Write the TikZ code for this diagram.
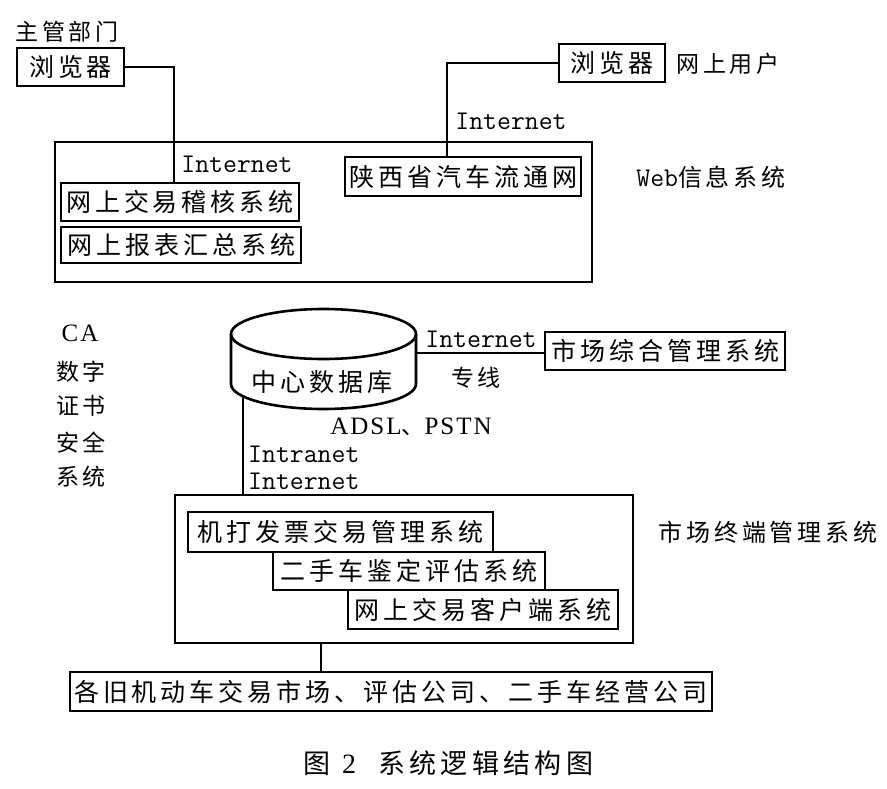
\documentclass[tikz,border=0pt]{standalone}
\usepackage{fontspec}
\setmainfont{Liberation Serif}
\newfontfamily\cjk[LetterSpace=16]{Noto Sans CJK SC}
\newfontfamily\lser[LetterSpace=8]{Liberation Serif}
\begin{document}
\begin{tikzpicture}[x=1pt,y=-1pt,
  wire/.style={line width=2.6pt},
  frame/.style={draw, line width=2.6pt, inner sep=0pt},
  box/.style={draw, line width=2.6pt, inner sep=0pt, font=\cjk\fontsize{25}{25}\selectfont},
  lbl/.style={inner sep=0pt, font=\cjk\fontsize{23}{23}\selectfont},
  net/.style={inner sep=0pt, font=\ttfamily\fontsize{27}{27}\selectfont}]
\useasboundingbox[fill=white] (0,0) rectangle (887,788);

% ---- top part: Web information system
\node[lbl] (zg) at (67,32) {主管部门};
\node[box, minimum width=107, minimum height=38] (bL) at (70.5,67) {浏览器};
\node[box, minimum width=106, minimum height=38] (bR) at (612,63) {浏览器};
\node[lbl] (wu) at (728,64) {网上用户};
\node[net] (inR) at (511,121) {Internet};
\node[frame, minimum width=537, minimum height=140] (web) at (323.5,212) {};
\node[net] (inL) at (237,164) {Internet};
\node[box, minimum width=236, minimum height=39] (sx) at (463,176.5) {陕西省汽车流通网};
\node[box, minimum width=238, minimum height=38] (jh) at (180,202) {网上交易稽核系统};
\node[box, minimum width=240, minimum height=36] (bb) at (181,245) {网上报表汇总系统};
\node[lbl, font=\cjk\fontsize{24}{24}\selectfont] (websys) at (711,177) {{\ttfamily\fontsize{27}{27}\selectfont Web}信息系统};
\draw[wire] (bL.east) -| ([xshift=-6pt]jh.north);
\draw[wire] (bR.west) -| ([xshift=-16pt]sx.north);

% ---- CA column
\node[inner sep=0pt, font=\lser\fontsize{25}{25}\selectfont] (ca) at (80,333) {CA};
\node[lbl] (c1) at (81,372) {数字};
\node[lbl] (c2) at (81,406) {证书};
\node[lbl] (c3) at (81,443) {安全};
\node[lbl] (c4) at (81,477) {系统};

% ---- central database
\draw[wire, fill=white] (231,334) -- (231,384) arc[start angle=180, end angle=0, x radius=92.5, y radius=25] -- (416,334);
\draw[wire] (323.5,334) ellipse [x radius=92.5, y radius=25];
\node[lbl, font=\cjk\fontsize{25}{25}\selectfont] (db) at (322,382) {中心数据库};
\coordinate (dbR) at (416,353);
\coordinate (dbB) at (243,396);
\node[box, minimum width=240, minimum height=38] (scm) at (665,351) {市场综合管理系统};
\draw[wire] (dbR) -- (dbR -| scm.west);
\node[net] (in2) at (481,339) {Internet};
\node[lbl] (zx) at (476,378) {专线};
\node[lbl] (adsl) at (411,427) {{\lser\fontsize{25}{25}\selectfont ADSL}、{\lser\fontsize{25}{25}\selectfont PSTN}};
\node[net, anchor=west] (intra) at (248,454) {Intranet};
\node[net, anchor=west] (in3) at (248,481) {Internet};

% ---- market terminal system
\node[frame, minimum width=458, minimum height=148] (mk) at (404,569) {};
\draw[wire] (dbB) -- (dbB |- mk.north);
\node[box, minimum width=305, minimum height=40] (jd) at (340.5,532) {机打发票交易管理系统};
\node[box, minimum width=272, minimum height=38] (es) at (409,571) {二手车鉴定评估系统};
\node[box, minimum width=270, minimum height=39] (kh) at (483,609.5) {网上交易客户端系统};
\node[lbl, font=\cjk\fontsize{24}{24}\selectfont] (zd) at (768,532) {市场终端管理系统};

% ---- bottom
\node[box, minimum width=642, minimum height=39, font=\cjk\fontsize{25}{25}\selectfont] (bot) at (391,691.5) {各旧机动车交易市场、评估公司、二手车经营公司};
\draw[wire] ([xshift=-83pt]mk.south) -- ([xshift=-83pt]mk.south |- bot.north);

% ---- caption
\node[anchor=west, inner sep=0pt] (cap) at (303,763) {{\cjk\fontsize{27}{27}\selectfont 图}\hspace{12pt}{\fontsize{28}{28}\selectfont 2}\hspace{22pt}{\cjk\fontsize{27}{27}\selectfont 系统逻辑结构图}};
\end{tikzpicture}
\end{document}
